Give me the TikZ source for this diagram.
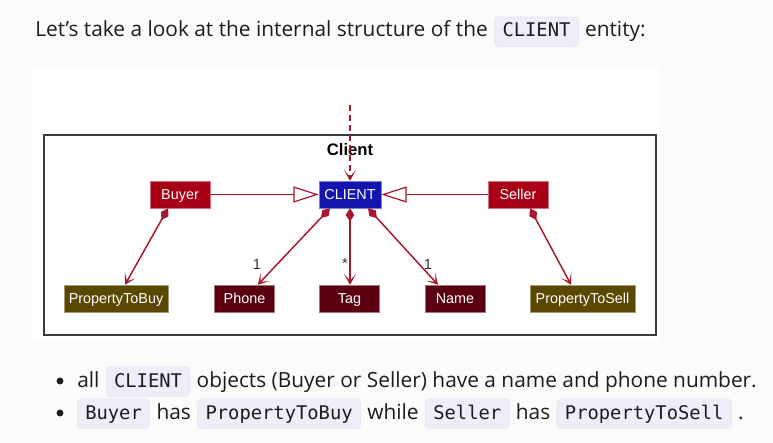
\documentclass[tikz,border=0pt]{standalone}
\usepackage{fontspec}
\setmainfont{Open Sans}
\setsansfont{Liberation Sans}
\setmonofont{DejaVu Sans Mono}
\usetikzlibrary{positioning, arrows.meta}
\definecolor{pagebg}{HTML}{FBFBFC}
\definecolor{codebg}{HTML}{EEEEFB}
\definecolor{codeline}{HTML}{E3E3F3}
\definecolor{textgrey}{HTML}{1C1C1C}
\definecolor{umlred}{HTML}{A80016}
\definecolor{umlblue}{HTML}{1414AE}
\definecolor{umlmaroon}{HTML}{5A0010}
\definecolor{umlolive}{HTML}{5A4800}
\definecolor{umlline}{HTML}{A8182C}
\definecolor{umlframe}{HTML}{3A3A3A}

\begin{document}
\begin{tikzpicture}[x=0.75pt, y=-0.75pt,
  prose/.style={inner sep=0pt, text=textgrey, font=\fontsize{15.65}{19}\selectfont},
  codebox/.style={fill=codebg, draw=codeline, rounded corners=3pt, inner xsep=6pt, inner ysep=3pt,
    text height=12pt, text depth=4pt, text=textgrey, font=\ttfamily\fontsize{14.1}{17}\selectfont},
  bulletdot/.style={circle, fill=textgrey, inner sep=0pt, minimum size=5.2pt},
  classbox/.style={fill=#1, draw=#1!55!white, text=white, inner sep=0pt, text height=7.7pt, text depth=0pt,
    minimum width=45pt, minimum height=20.25pt, font=\sffamily\fontsize{10.8}{12}\selectfont},
  mult/.style={inner sep=0pt, text=black!80, font=\sffamily\fontsize{11}{13}\selectfont},
  chevron/.tip={Stealth[length=8pt, width=9pt, inset=5pt]},
  comp/.style={umlline, line width=1.1pt, {Diamond[length=10pt, width=6.5pt]}-chevron},
  node distance=4.6pt]
  \useasboundingbox (0,0) rectangle (773,442);
  \fill[pagebg] (0,0) rectangle (773,442);

  % intro line
  \node[prose, anchor=base west] (intro) at (35,37) {Let’s take a look at the internal structure of the};
  \node[codebox, base right=of intro] (introcode) {CLIENT};
  \node[prose, base right=of introcode] (introend) {entity:};

  % diagram panel
  \fill[white] (33,67) rectangle (660,340);
  \draw[umlframe, line width=1.5pt] (44,135) rectangle (656,335);
  \node[font=\sffamily\bfseries\fontsize{12.5}{14}\selectfont] (pkgtitle) at (350,150) {Client};

  \node[classbox=umlblue, minimum width=46.5pt] (client) at (350,194.5) {CLIENT};
  \node[classbox=umlred] (buyer) at (180,194.5) {Buyer};
  \node[classbox=umlred] (seller) at (518,194.5) {Seller};
  \node[classbox=umlolive, minimum width=78pt] (tobuy) at (116,298.5) {PropertyToBuy};
  \node[classbox=umlmaroon] (phone) at (244.5,298.5) {Phone};
  \node[classbox=umlmaroon] (tag) at (349.5,298.5) {Tag};
  \node[classbox=umlmaroon] (name) at (455,298.5) {Name};
  \node[classbox=umlolive, minimum width=78.75pt] (tosell) at (582.5,298.5) {PropertyToSell};
  \coordinate (entry) at (350,105);

  \draw[umlline, line width=1pt, dash pattern=on 4.5pt off 3pt, -chevron] (entry) -- (client.north);
  \draw[umlline, line width=0.9pt, -{Triangle[length=19pt, width=12pt, fill=white]}] (buyer.east) -- (client.west);
  \draw[umlline, line width=0.9pt, -{Triangle[length=19pt, width=12pt, fill=white]}] (seller.west) -- (client.east);

  \draw[comp] ([xshift=-9pt]buyer.south) -- ([xshift=6.75pt]tobuy.north);
  \draw[comp] ([xshift=-15pt]client.south) -- ([xshift=10pt]phone.north);
  \draw[comp] (client.south) -- (client.south |- tag.north);
  \draw[comp] ([xshift=13.5pt]client.south) -- ([xshift=-12.75pt]name.north);
  \draw[comp] ([xshift=9pt]seller.south) -- ([xshift=-8.6pt]tosell.north);

  \node[mult] (phonemult) at (257,264) {1};
  \node[mult] (tagmult) at (345,263) {*};
  \node[mult] (namemult) at (428,264) {1};

  % bullets
  \node[bulletdot] (dotone) at (60,381) {};
  \node[prose, anchor=base west] (bone) at (77,387) {all};
  \node[codebox, base right=of bone] (bonecode) {CLIENT};
  \node[prose, base right=of bonecode] (bonerest) {objects (Buyer or Seller) have a name and phone number.};

  \node[bulletdot] (dottwo) at (60,413) {};
  \node[codebox, anchor=base west] (btwobuyer) at (77,419) {Buyer};
  \node[prose, base right=of btwobuyer] (btwohas) {has};
  \node[codebox, base right=of btwohas] (btwotobuy) {PropertyToBuy};
  \node[prose, base right=of btwotobuy] (btwowhile) {while};
  \node[codebox, base right=of btwowhile] (btwoseller) {Seller};
  \node[prose, base right=of btwoseller] (btwohastoo) {has};
  \node[codebox, base right=of btwohastoo] (btwotosell) {PropertyToSell};
  \node[prose, base right=of btwotosell] (btwoend) {.};
\end{tikzpicture}
\end{document}
